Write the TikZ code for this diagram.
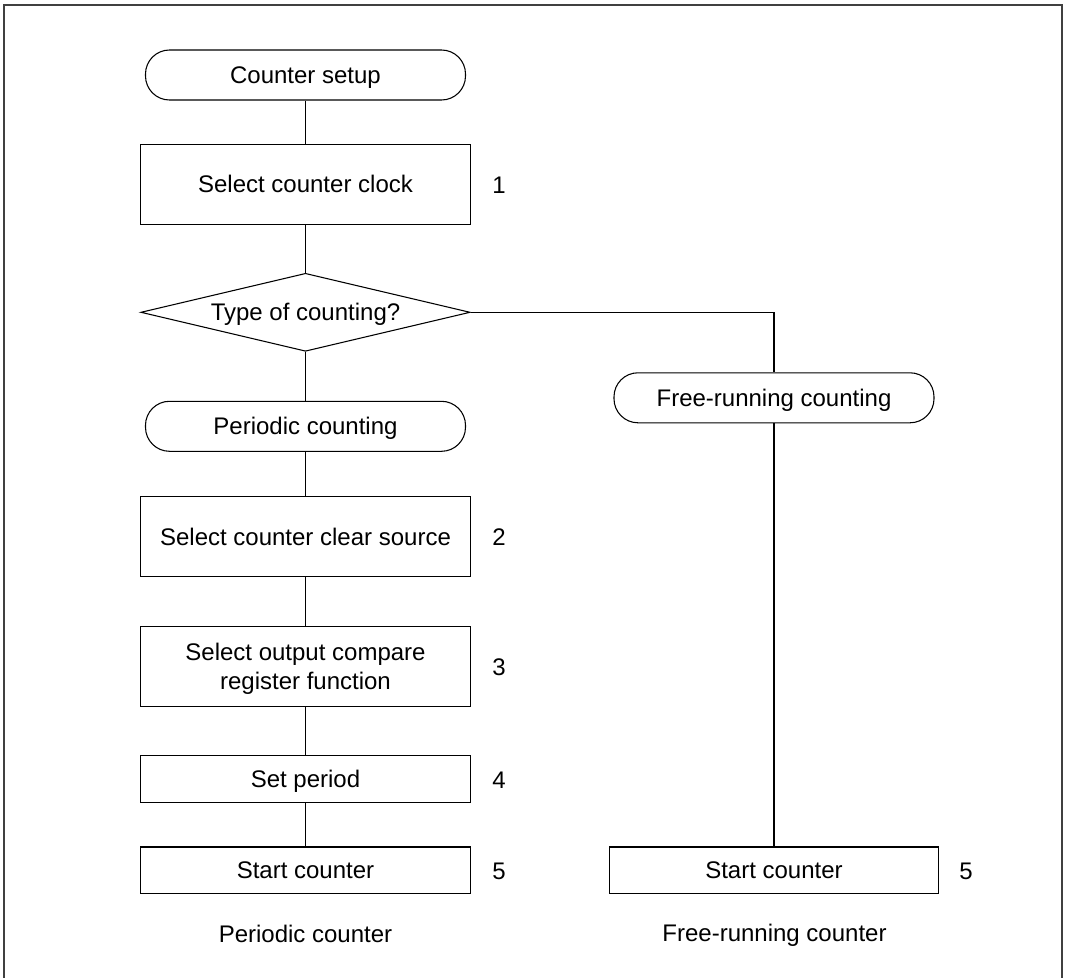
\documentclass[tikz,border=0pt]{standalone}
\usepackage{fontspec}
\setmainfont{Liberation Sans}
\usetikzlibrary{shapes.geometric}

\tikzset{
  flowline/.style={line width=0.8pt},
  term/.style={draw, line width=0.8pt, rectangle, rounded corners=18pt,
    minimum width=240pt, minimum height=37.5pt, inner sep=0pt, text depth=0pt},
  procbox/.style={draw, line width=0.8pt, rectangle, minimum width=247pt,
    minimum height=60pt, inner sep=0pt, align=center, text depth=0pt},
  lowbox/.style={procbox, minimum height=35pt},
  decide/.style={draw, line width=0.8pt, diamond, aspect=4.2,
    minimum width=247pt, minimum height=58.5pt, inner sep=0pt, text depth=0pt},
  stepno/.style={inner sep=0pt},
}

\begin{document}
\begin{tikzpicture}[x=0.75pt,y=-0.75pt,font=\fontsize{18}{21.6}\selectfont]
\useasboundingbox (0,0) rectangle (1068,978);
\draw[line width=1pt,black!75] (4,978) -- (4,5) -- (1062,5) -- (1062,978);

% periodic branch
\node[term] (setup) at (305.5,75) {Counter setup};
\node[procbox] (clock) at (305.5,184.3) {Select counter clock};
\node[decide] (type) at (305.5,312.3) {Type of counting?};
\node[term] (periodic) at (305.5,426.3) {Periodic counting};
\node[procbox] (clear) at (305.5,536.8) {Select counter clear source};
\node[procbox] (compare) at (305.5,666.5) {Select output compare\\register function};
\node[lowbox] (period) at (305.5,779) {Set period};
\node[lowbox] (startp) at (305.5,870.3) {Start counter};

% free-running branch
\node[term] (free) at (774,397.8) {Free-running counting};
\node[lowbox] (startf) at (774,870.3) {Start counter};

% step numbers
\node[stepno] (n1) at (499,185) {1};
\node[stepno] (n2) at (499,537) {2};
\node[stepno] (n3) at (499,667) {3};
\node[stepno] (n4) at (499,780) {4};
\node[stepno] (n5) at (499,871) {5};
\node[stepno] (n5f) at (966,871) {5};

\node[text depth=0pt] (lblp) at (305.5,934) {Periodic counter};
\node[text depth=0pt] (lblf) at (774.5,933) {Free-running counter};

\draw[flowline] (setup) -- (clock);
\draw[flowline] (clock) -- (type);
\draw[flowline] (type) -- (periodic);
\draw[flowline] (periodic) -- (clear);
\draw[flowline] (clear) -- (compare);
\draw[flowline] (compare) -- (period);
\draw[flowline] (period) -- (startp);
\draw[flowline] (type.east) -| (free.north);
\draw[flowline] (free) -- (startf);
\end{tikzpicture}
\end{document}
